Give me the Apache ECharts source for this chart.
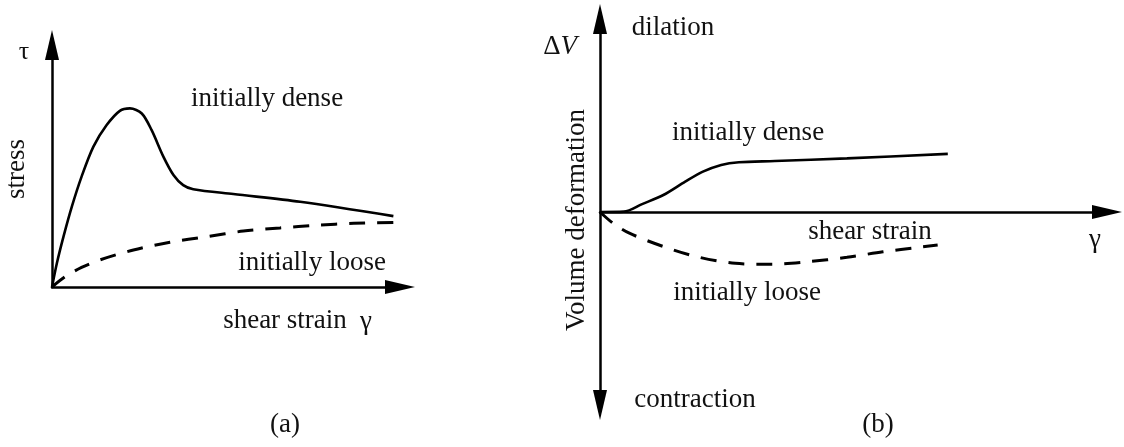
<!DOCTYPE html>
<html>
<head>
<meta charset="utf-8">
<script src="https://cdn.jsdelivr.net/npm/echarts@6/dist/echarts.min.js"></script>
<style>
  html, body { margin: 0; padding: 0; background: #fff; }
  #chart { width: 1124px; height: 447px; }
</style>
</head>
<body>
<div id="chart"></div>
<script>
// (a) shear stress vs shear strain
const denseStrainA = [0, 1.4, 3.3, 5.7, 8.5, 11.9, 15.7, 19.5, 22.4, 25.8, 28.6, 32.0, 34.9, 37.7, 40.6, 52.1, 71.3, 98.1];
const denseStressA = [0, 9.8, 20.8, 33.2, 45.6, 58.0, 66.9, 72.8, 73.8, 71.7, 64.9, 53.9, 46.3, 42.1, 40.4, 38.4, 35.2, 29.3];
const looseStrainA = [0, 3.7, 8.5, 13.8, 23.4, 33.9, 44.5, 55.0, 65.5, 76.1, 86.7, 98.1];
const looseStressA = [0, 4.2, 8.1, 11.2, 15.3, 18.5, 20.8, 23.1, 24.4, 25.5, 26.3, 26.7];

// (b) volume deformation vs shear strain
const denseStrainB = [0, 4.7, 8.3, 12.5, 16.8, 20.3, 23.9, 27.4, 34.5, 48.7, 68.6];
const denseVolB = [0, 0.2, 4.1, 8.8, 15.7, 20.9, 24.4, 25.8, 26.4, 27.8, 30.1];
const looseStrainB = [0, 2.6, 5.8, 12.5, 19.3, 26.7, 33.8, 40.9, 48.7, 55.8, 62.9, 66.6];
const looseVolB = [0, -5.9, -11.0, -17.9, -23.3, -26.6, -27.1, -25.8, -23.5, -20.6, -18.3, -17.1];

const pairs = (xs, ys) => xs.map((x, i) => [x, ys[i]]);

const FONT = '"Liberation Serif", "Times New Roman", serif';
const txt = (text, x, y, opts = {}) => ({
  type: 'text', x, y, rotation: opts.rotation || 0, z: 10,
  style: Object.assign({
    text, fill: '#111',
    font: (opts.size || 27) + 'px ' + FONT,
    align: opts.align || 'center', verticalAlign: 'middle'
  }, opts.style || {})
});

const axisLine = (symbol) => ({
  show: true,
  symbol,
  symbolSize: [14, 30],
  lineStyle: { color: '#000', width: 2.5 }
});
const bare = { axisTick: { show: false }, axisLabel: { show: false }, splitLine: { show: false } };

const chart = echarts.init(document.getElementById('chart'), null, { renderer: 'canvas' });
chart.setOption({
  animation: false,
  backgroundColor: '#fff',
  grid: [
    { left: 52, top: 45, width: 348, height: 242 },
    { left: 600, top: 19, width: 507, height: 386 }
  ],
  xAxis: [
    Object.assign({ gridIndex: 0, type: 'value', min: 0, max: 100,
      axisLine: Object.assign(axisLine(['none', 'triangle']), { onZero: false }) }, bare),
    Object.assign({ gridIndex: 1, type: 'value', min: 0, max: 100,
      axisLine: Object.assign(axisLine(['none', 'triangle']), { onZero: true }) }, bare)
  ],
  yAxis: [
    Object.assign({ gridIndex: 0, type: 'value', min: 0, max: 100,
      axisLine: Object.assign(axisLine(['none', 'triangle']), { onZero: false }) }, bare),
    Object.assign({ gridIndex: 1, type: 'value', min: -100, max: 100,
      axisLine: Object.assign(axisLine(['triangle', 'triangle']), { onZero: true }) }, bare)
  ],
  series: [
    { name: 'initially dense', type: 'line', xAxisIndex: 0, yAxisIndex: 0,
      data: pairs(denseStrainA, denseStressA), smooth: 0.3, showSymbol: false,
      lineStyle: { color: '#000', width: 2.6 } },
    { name: 'initially loose', type: 'line', xAxisIndex: 0, yAxisIndex: 0,
      data: pairs(looseStrainA, looseStressA), smooth: 0.3, showSymbol: false,
      lineStyle: { color: '#000', width: 3, type: [16, 12] } },
    { name: 'initially dense (b)', type: 'line', xAxisIndex: 1, yAxisIndex: 1,
      data: pairs(denseStrainB, denseVolB), smooth: 0.3, showSymbol: false,
      lineStyle: { color: '#000', width: 2.6 } },
    { name: 'initially loose (b)', type: 'line', xAxisIndex: 1, yAxisIndex: 1,
      data: pairs(looseStrainB, looseVolB), smooth: 0.3, showSymbol: false,
      lineStyle: { color: '#000', width: 3, type: [16, 12] } }
  ],
  graphic: [
    // panel (a)
    txt('τ', 24, 52, { size: 26 }),
    txt('stress', 17, 169, { rotation: Math.PI / 2 }),
    txt('initially dense', 267, 99),
    txt('initially loose', 312, 263),
    txt('shear strain', 285, 321),
    txt('γ', 366, 322),
    txt('(a)', 285, 425),
    // panel (b)
    {
      type: 'text', x: 577, y: 47, z: 10,
      style: {
        text: '{d|Δ}{v|V}', align: 'right', verticalAlign: 'middle',
        rich: {
          d: { font: '27px ' + FONT, fill: '#111' },
          v: { font: 'italic 27px ' + FONT, fill: '#111' }
        }
      }
    },
    txt('dilation', 673, 28),
    txt('Volume deformation', 577, 220, { rotation: Math.PI / 2 }),
    txt('initially dense', 748, 133),
    txt('shear strain', 870, 232),
    txt('γ', 1095, 240),
    txt('initially loose', 747, 293),
    txt('contraction', 695, 400),
    txt('(b)', 878, 425)
  ]
});
</script>
</body>
</html>
